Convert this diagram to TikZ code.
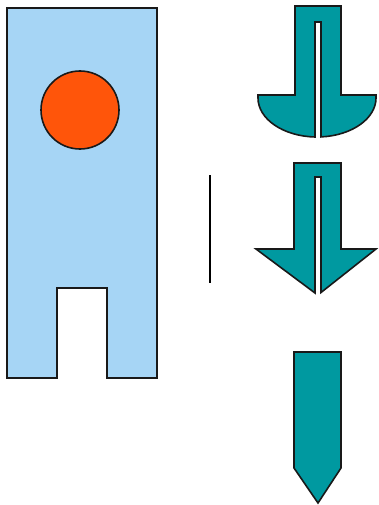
\documentclass[tikz,border=0pt]{standalone}
\definecolor{lblue}{RGB}{166,213,245}
\definecolor{oran}{RGB}{255,85,10}
\definecolor{teal2}{RGB}{0,153,160}
\tikzset{
  outl/.style={draw=black!90, line width=1.6pt, line join=miter},
  tealshape/.style={outl, fill=teal2},
}
\begin{document}
\begin{tikzpicture}[x=1pt,y=-1pt]
\useasboundingbox (0,0) rectangle (378,505);
% left body with notch
\path[outl, fill=lblue] (7,8) -- (157,8) -- (157,378) -- (107,378) -- (107,288) -- (57,288) -- (57,378) -- (7,378) -- cycle;
\node[outl, fill=oran, circle, minimum size=78pt, inner sep=0pt] (ball) at (80,110) {};
% vertical bar
\coordinate (barT) at (210,175);
\coordinate (barB) at (210,283);
\draw[line width=2.8pt, black] (barT) -- (barB);
% arrow 1 with rounded base
\path[tealshape] (295,6) -- (341,6) -- (341,95) -- (376,95) -- (376,98)
  arc[start angle=0, end angle=86.1, x radius=59, y radius=39]
  -- (321,22) -- (315,22) -- (315,136.98)
  arc[start angle=91.94, end angle=180, x radius=59, y radius=39]
  -- (258,95) -- (295,95) -- cycle;
% arrow 2 with triangular head
\path[tealshape] (294,163) -- (341,163) -- (341,249) -- (376,249) -- (321,292.5)
  -- (321,177) -- (315,177) -- (315,293) -- (256,249) -- (294,249) -- cycle;
% arrow 3 pointer
\path[tealshape] (294,352) -- (341,352) -- (341,468) -- (318,503) -- (294,468) -- cycle;
\end{tikzpicture}
\end{document}
